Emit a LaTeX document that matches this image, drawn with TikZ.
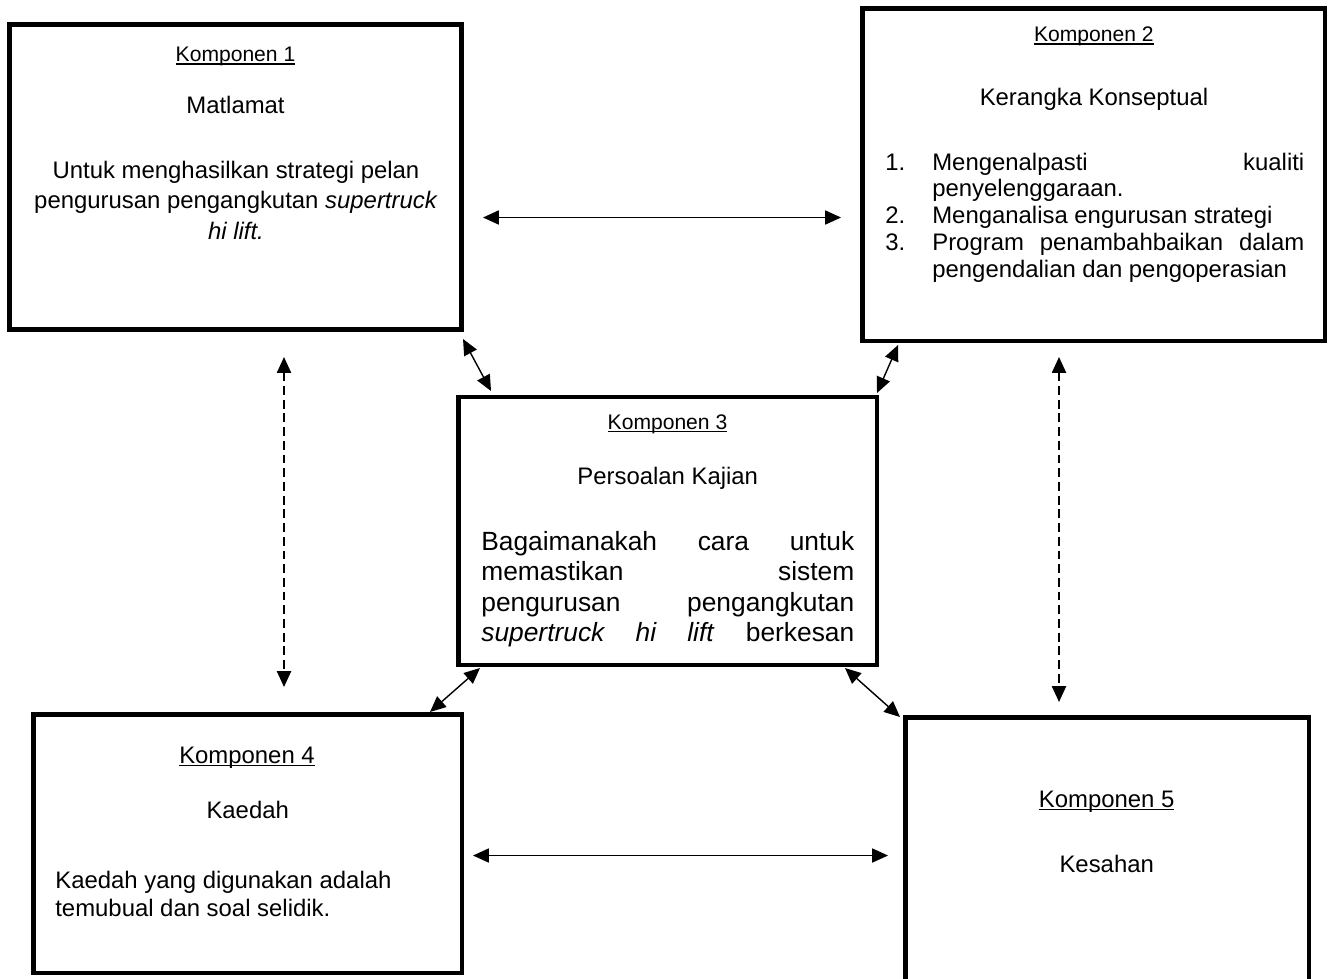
\documentclass[tikz,border=0pt]{standalone}
\usepackage{fontspec}
\setmainfont{Liberation Sans}
\usetikzlibrary{arrows.meta}
\newcommand{\kline}[1]{\setbox0\hbox{#1}\rlap{\rule[-1.7pt]{\wd0}{0.8pt}}\box0}
\newcommand{\itm}[1]{\par\hangindent=0.94cm\hangafter=1\noindent\makebox[0.94cm][l]{#1}}
\tikzset{
    box/.style = {draw, line width=2.8pt, inner sep=0pt},
    txt/.style = {anchor=base, inner sep=0pt, font=\fontsize{13.6}{15.6}\selectfont},
    head/.style = {anchor=base, inner sep=0pt, font=\fontsize{12}{14}\selectfont},
    link/.style = {{Triangle[length=9pt,width=8pt]}-{Triangle[length=9pt,width=8pt]}, line width=0.8pt},
    dlink/.style = {link, line width=1pt, dash pattern=on 5pt off 2.8pt}
}
\begin{document}
\begin{tikzpicture}[x=0.02cm, y=-0.02cm]
    \useasboundingbox (0,0) rectangle (1334,978);
    \clip (0,0) rectangle (1334,978);
    \node[box, minimum width=9.04cm, minimum height=6.1cm] (k1) at (235.5,177) {};
    \node[box, minimum width=9.26cm, minimum height=6.65cm] (k2) at (1093.5,174.75) {};
    \node[box, minimum width=8.37cm, minimum height=5.36cm] (k3) at (667.75,531) {};
    \node[box, minimum width=8.58cm, minimum height=5.18cm] (k4) at (247.5,843.5) {};
    \node[box, minimum width=8.07cm, minimum height=5.65cm] (k5) at (1107.25,858.75) {};

    \node[head] (t1) at (235.5,61.7) {\kline{Komponen 1}};
    \node[txt] (m1) at (235.5,113) {Matlamat};
    \node[anchor=base, inner sep=0pt] (d1) at (236,178) {\parbox[t]{8.3cm}{\fontsize{13.6}{17.6}\selectfont\centering
        Untuk menghasilkan strategi pelan\\ pengurusan pengangkutan \emph{supertruck}\\ \emph{hi lift.}}};

    \node[head] (t2) at (1093.8,41.7) {\kline{Komponen 2}};
    \node[txt] (m2) at (1094,105) {Kerangka Konseptual};
    \node[anchor=base west, inner sep=0pt] (d2) at (885,170) {\parbox[t]{8.38cm}{\fontsize{13.6}{15.3}\selectfont\tolerance=10000
        \itm{1.}Mengenalpasti kualiti\linebreak penyelenggaraan.
        \itm{2.}Menganalisa engurusan strategi
        \itm{3.}Program penambahbaikan dalam\linebreak pengendalian dan pengoperasian}};

    \node[head] (t3) at (667.5,429) {\kline{Komponen 3}};
    \node[txt] (m3) at (667.7,484) {Persoalan Kajian};
    \node[anchor=base west, inner sep=0pt] (d3) at (481,550.7) {\parbox[t]{7.46cm}{\fontsize{15}{17.2}\selectfont\tolerance=10000\parfillskip=0pt
        Bagaimanakah cara untuk\linebreak memastikan sistem\linebreak pengurusan pengangkutan\linebreak \emph{supertruck hi lift} berkesan}};

    \node[txt] (t4) at (247,763) {\kline{Komponen 4}};
    \node[txt] (m4) at (247.7,818) {Kaedah};
    \node[anchor=base west, inner sep=0pt] (d4) at (55,888) {\parbox[t]{8cm}{\fontsize{13.6}{16.4}\selectfont\raggedright
        Kaedah yang digunakan adalah\\ temubual dan soal selidik.}};

    \node[txt] (t5) at (1106.7,807) {\kline{Komponen 5}};
    \node[txt] (m5) at (1106.7,872) {Kesahan};

    \coordinate (a1) at (483,217.5);
    \coordinate (a2) at (841,217.5);
    \coordinate (a3) at (473,855.5);
    \coordinate (a4) at (888,855.5);
    \coordinate (v1) at (284,357);
    \coordinate (v2) at (284,687);
    \coordinate (v3) at (1059,357);
    \coordinate (v4) at (1059,702);
    \coordinate (c1) at (463,339);
    \coordinate (c2) at (491,391);
    \coordinate (c3) at (898,345);
    \coordinate (c4) at (877,393);
    \coordinate (c5) at (480,668);
    \coordinate (c6) at (430,712);
    \coordinate (c7) at (845,668);
    \coordinate (c8) at (900,717);

    \draw[link] (a1) -- (a2);
    \draw[link] (a3) -- (a4);
    \draw[dlink] (v1) -- (v2);
    \draw[dlink] (v3) -- (v4);
    \draw[link] (c1) -- (c2);
    \draw[link] (c3) -- (c4);
    \draw[link] (c5) -- (c6);
    \draw[link] (c7) -- (c8);
\end{tikzpicture}
\end{document}
